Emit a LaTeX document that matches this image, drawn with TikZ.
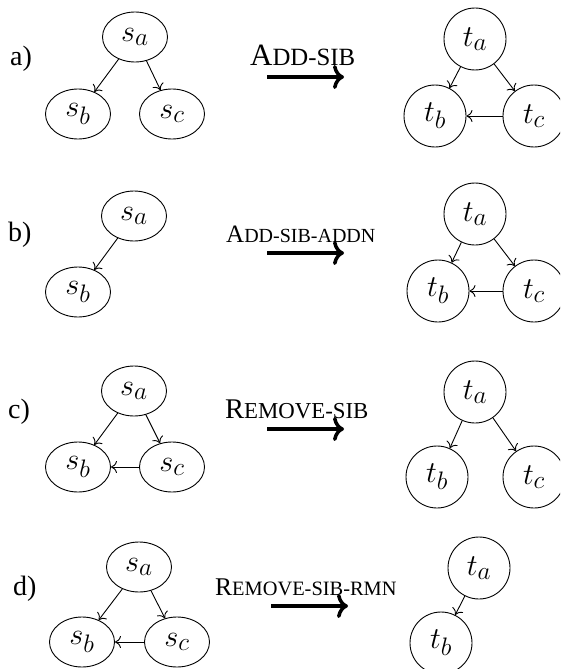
\RequirePackage{fix-cm}
\documentclass[tikz,border=0pt]{standalone}
\usepackage{fontspec}
\usepackage{graphicx}
\setmainfont{Liberation Serif}
\usetikzlibrary{shapes.geometric,arrows.meta}
\newcommand\mlab[1]{\scalebox{1.22}{$#1$}}
\begin{document}
\begin{tikzpicture}[x=1pt,y=-1pt,
  snode/.style={draw, ellipse, line width=0.9pt, minimum width=65pt, minimum height=50pt, inner sep=0pt, font=\fontsize{24.88}{30}\selectfont},
  tnode/.style={draw, circle, line width=0.9pt, minimum size=62pt, inner sep=0pt, font=\fontsize{24.88}{30}\selectfont},
  edge/.style={line width=0.9pt, -{Computer Modern Rightarrow[length=6pt,width=12pt]}},
  bigarrow/.style={line width=3.5pt, -{Computer Modern Rightarrow[length=11pt,width=24pt]}},
  rowlabel/.style={anchor=base west, inner sep=0pt, font=\fontsize{28}{30}\selectfont},
  oplabel/.style={anchor=base west, inner sep=0pt},
]
\clip (0,0) rectangle (560,669);
\fill[white] (0,0) rectangle (560,669);

% ---------- row a ----------
\node[rowlabel] (la) at (10,66) {a)};
\node[snode] (sa1) at (135,37) {\mlab{s_a}};
\node[snode] (sb1) at (78,114) {\mlab{s_b}};
\node[snode] (sc1) at (172,114) {\mlab{s_c}};
\draw[edge] (sa1) -- (sb1);
\draw[edge] (sa1) -- (sc1);
\node[oplabel] (op1) at (250,66) {\fontsize{31}{32}\selectfont A\fontsize{24.8}{32}\selectfont DD-SIB};
\coordinate (a1s) at (267,77);
\coordinate (a1e) at (344,77);
\draw[bigarrow] (a1s) -- (a1e);
\node[tnode] (ta1) at (475,39) {\mlab{t_a}};
\node[tnode] (tb1) at (435,116) {\mlab{t_b}};
\node[tnode] (tc1) at (534,116) {\mlab{t_c}};
\draw[edge] (ta1) -- (tb1);
\draw[edge] (ta1) -- (tc1);
\draw[edge] (tc1) -- (tb1);

% ---------- row b ----------
\node[rowlabel] (lb) at (8,241) {b)};
\node[snode] (sa2) at (134,216) {\mlab{s_a}};
\node[snode] (sb2) at (78,292) {\mlab{s_b}};
\draw[edge] (sa2) -- (sb2);
\node[oplabel] (op2) at (226,242) {\fontsize{25}{28}\selectfont A\fontsize{20}{28}\selectfont DD-SIB-ADDN};
\coordinate (a2s) at (267,253);
\coordinate (a2e) at (344,253);
\draw[bigarrow] (a2s) -- (a2e);
\node[tnode] (ta2) at (475,214) {\mlab{t_a}};
\node[tnode] (tb2) at (438,291) {\mlab{t_b}};
\node[tnode] (tc2) at (534,291) {\mlab{t_c}};
\draw[edge] (ta2) -- (tb2);
\draw[edge] (ta2) -- (tc2);
\draw[edge] (tc2) -- (tb2);

% ---------- row c ----------
\node[rowlabel] (lc) at (8,418) {c)};
\node[snode] (sa3) at (134,391) {\mlab{s_a}};
\node[snode] (sb3) at (78,467) {\mlab{s_b}};
\node[snode] (sc3) at (172,467) {\mlab{s_c}};
\draw[edge] (sa3) -- (sb3);
\draw[edge] (sa3) -- (sc3);
\draw[edge] (sc3) -- (sb3);
\node[oplabel] (op3) at (225,418) {\fontsize{28.5}{30}\selectfont R\fontsize{22.8}{30}\selectfont EMOVE-SIB};
\coordinate (a3s) at (267,429);
\coordinate (a3e) at (344,429);
\draw[bigarrow] (a3s) -- (a3e);
\node[tnode] (ta3) at (475,392) {\mlab{t_a}};
\node[tnode] (tb3) at (437,477) {\mlab{t_b}};
\node[tnode] (tc3) at (534,477) {\mlab{t_c}};
\draw[edge] (ta3) -- (tb3);
\draw[edge] (ta3) -- (tc3);

% ---------- row d ----------
\node[rowlabel] (ld) at (13,595) {d)};
\node[snode] (sa4) at (139,567) {\mlab{s_a}};
\node[snode] (sb4) at (82,642) {\mlab{s_b}};
\node[snode] (sc4) at (177,642) {\mlab{s_c}};
\draw[edge] (sa4) -- (sb4);
\draw[edge] (sa4) -- (sc4);
\draw[edge] (sc4) -- (sb4);
\node[oplabel] (op4) at (215,595) {\fontsize{25.5}{28}\selectfont R\fontsize{20.4}{28}\selectfont EMOVE-SIB-RMN};
\coordinate (a4s) at (271,606);
\coordinate (a4e) at (348,606);
\draw[bigarrow] (a4s) -- (a4e);
\node[tnode] (ta4) at (479,568) {\mlab{t_a}};
\node[tnode] (tb4) at (441,643) {\mlab{t_b}};
\draw[edge] (ta4) -- (tb4);
\end{tikzpicture}
\end{document}
